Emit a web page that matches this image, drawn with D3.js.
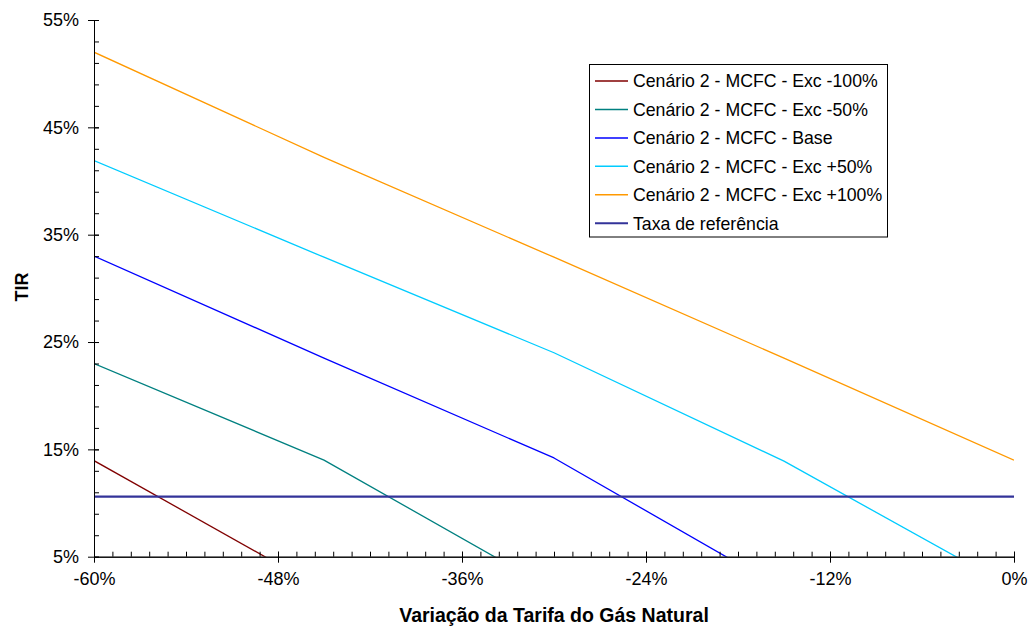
<!DOCTYPE html>
<html><head><meta charset="utf-8">
<script src="https://cdn.jsdelivr.net/npm/d3@7"></script>
<style>
html,body{margin:0;padding:0;background:#fff;}
text{font-family:"Liberation Sans",Arial,sans-serif;fill:#000;}
</style></head>
<body>
<svg id="chart" width="1032" height="628"></svg>
<script>
// ---- data ----
const xValues = [-60, -45, -30, -15, 0];
const seriesNames = [
  "Cenário 2 - MCFC - Exc -100%",
  "Cenário 2 - MCFC - Exc -50%",
  "Cenário 2 - MCFC - Base",
  "Cenário 2 - MCFC - Exc +50%",
  "Cenário 2 - MCFC - Exc +100%",
  "Taxa de referência"
];
const exc100neg = [13.95, 1.9, null, null, null];
const exc50neg  = [23.0, 14.0, 1.85, null, null];
const base      = [33.0, 23.5, 14.2, 1.9, null];
const exc50pos  = [41.9, 32.9, 24.0, 13.9, 2.0];
const exc100pos = [52.0, 42.2, 32.9, 23.5, 14.0];
const taxaRef   = [10.6, 10.6, 10.6, 10.6, 10.6];
const xTickLabels = ["-60%", "-48%", "-36%", "-24%", "-12%", "0%"];
const yTickLabels = ["5%", "15%", "25%", "35%", "45%", "55%"];
const xTitle = "Variação da Tarifa do Gás Natural";
const yTitle = "TIR";

// ---- styles ----
const colors = ["#800000", "#008080", "#0000ff", "#00ccff", "#ff9900", "#333399"];
const widths = [1.3, 1.3, 1.3, 1.3, 1.3, 2.3];
const allSeries = [exc100neg, exc50neg, base, exc50pos, exc100pos, taxaRef];

const svg = d3.select("#chart");
const x = d3.scaleLinear().domain([-60, 0]).range([94, 1014]);
const y = d3.scaleLinear().domain([5, 55]).range([556.7, 20]);

svg.append("defs").append("clipPath").attr("id", "plotclip")
  .append("rect").attr("x", x(-60)).attr("y", y(55)).attr("width", x(0) - x(-60)).attr("height", y(5) - y(55));

// lines
const line = d3.line().defined(d => d[1] != null).x(d => x(d[0])).y(d => y(d[1]));
const gLines = svg.append("g").attr("clip-path", "url(#plotclip)");
allSeries.forEach((s, i) => {
  gLines.append("path")
    .datum(xValues.map((xv, j) => [xv, s[j]]))
    .attr("d", line)
    .attr("fill", "none")
    .attr("stroke", colors[i])
    .attr("stroke-width", widths[i])
    .attr("stroke-linejoin", "round");
});

// axes
const axisColor = "#000";
const xMajor = d3.range(-60, 0.001, 12);
const xMinor = d3.range(0, 51).map(i => -60 + i * 1.2);
const yMajor = d3.range(5, 55.001, 10);
const yMinor = d3.range(0, 26).map(i => 5 + i * 2);

const xAxisMinor = d3.axisBottom(x).tickValues(xMinor).tickSizeInner(-5).tickSizeOuter(0).tickFormat("");
const xAxisMajor = d3.axisBottom(x).tickValues(xMajor).tickSize(6).tickSizeOuter(0)
  .tickFormat((d, i) => xTickLabels[i]).tickPadding(10);
const gx1 = svg.append("g").attr("transform", `translate(0,${y(5)})`).call(xAxisMinor);
const gx2 = svg.append("g").attr("transform", `translate(0,${y(5)})`).call(xAxisMajor);
gx2.selectAll(".tick line").attr("y1", -5);
[gx1, gx2].forEach(g => {
  g.selectAll("path,line").attr("stroke", axisColor).attr("stroke-width", 1);
});
gx2.selectAll("text").style("font-size", "18px").style("font-family", "Liberation Sans, Arial, sans-serif").attr("fill", "#000");

const yAxisMinor = d3.axisLeft(y).tickValues(yMinor).tickSizeInner(-5).tickSizeOuter(0).tickFormat("");
const yAxisMajor = d3.axisLeft(y).tickValues(yMajor).tickSize(6).tickSizeOuter(0)
  .tickFormat((d, i) => yTickLabels[i]).tickPadding(9);
const gy1 = svg.append("g").attr("transform", `translate(${x(-60)},0)`).call(yAxisMinor);
const gy2 = svg.append("g").attr("transform", `translate(${x(-60)},0)`).call(yAxisMajor);
gy2.selectAll(".tick line").attr("x1", 5);
[gy1, gy2].forEach(g => {
  g.selectAll("path,line").attr("stroke", axisColor).attr("stroke-width", 1);
});
gy2.selectAll("text").style("font-size", "18px").style("font-family", "Liberation Sans, Arial, sans-serif").attr("fill", "#000");

// titles
svg.append("text").attr("x", 554).attr("y", 622).attr("text-anchor", "middle")
  .style("font-size", "19.5px").style("font-weight", "bold").text(xTitle);
svg.append("text").attr("transform", "translate(28,287) rotate(-90)").attr("text-anchor", "middle")
  .style("font-size", "18px").style("font-weight", "bold").text(yTitle);

// legend
const lg = svg.append("g");
lg.append("rect").attr("x", 589.5).attr("y", 64.5).attr("width", 298).attr("height", 172.5)
  .attr("fill", "#fff").attr("stroke", "#000").attr("stroke-width", 1);
seriesNames.forEach((name, i) => {
  const cy = 81 + i * 28.45;
  lg.append("line").attr("x1", 595).attr("x2", 628).attr("y1", cy).attr("y2", cy)
    .attr("stroke", colors[i]).attr("stroke-width", i === 5 ? 2 : 1.5);
  lg.append("text").attr("x", 633).attr("y", cy + 6.3).style("font-size", "17.7px").text(name);
});
</script>
</body></html>
